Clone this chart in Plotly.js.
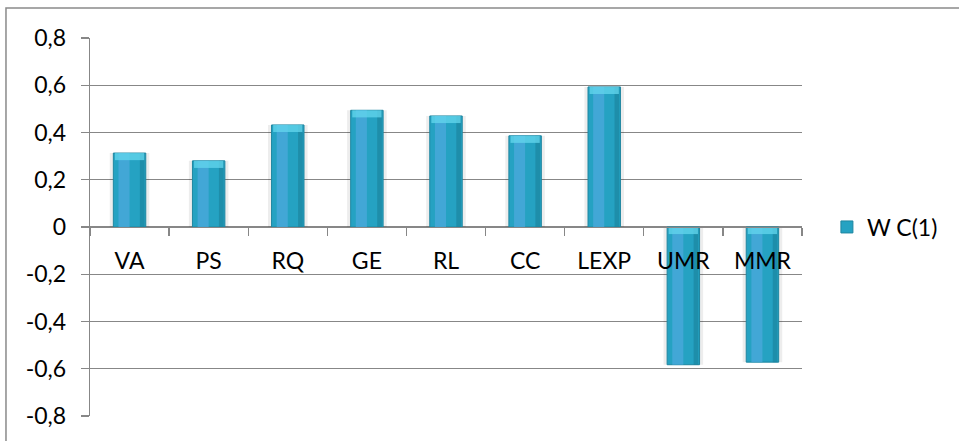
<!DOCTYPE html>
<html>
<head>
<meta charset="utf-8">
<script src="https://cdn.plot.ly/plotly-3.0.1.min.js"></script>
<style>html,body{margin:0;padding:0;background:#fff;}#chart{width:959px;height:441px;}</style>
</head>
<body>
<div id="chart"></div>
<script>
const categories = ["VA", "PS", "RQ", "GE", "RL", "CC", "LEXP", "UMR", "MMR"];
const values = [0.313, 0.28, 0.432, 0.494, 0.47, 0.386, 0.593, -0.583, -0.572];
const seriesName = "W C(1)";
const yTickVals = [-0.8, -0.6, -0.4, -0.2, 0, 0.2, 0.4, 0.6, 0.8];
const yTickText = ["-0,8", "-0,6", "-0,4", "-0,2", "0", "0,2", "0,4", "0,6", "0,8"];

const capH = 0.03;
const capY = values.map(v => v >= 0 ? capH : -capH);
const capBase = values.map(v => v >= 0 ? v - capH : 0);

const FONT = 'Lato, Calibri, sans-serif';
const FS = 23;

const traces = [
  { type: 'bar', x: categories, y: values, width: 0.5, showlegend: false, hoverinfo: 'skip',
    marker: { color: 'rgba(0,0,0,0.07)', line: { width: 0 } } },
  { type: 'bar', x: categories, y: values, name: seriesName, width: 0.41,
    marker: { color: '#25a2c2', line: { color: '#1f86a0', width: 1 } } },
  { type: 'bar', x: categories, y: values, width: 0.14, offset: -0.14, showlegend: false, hoverinfo: 'skip',
    marker: { color: 'rgba(78,170,222,0.7)', line: { width: 0 } } },
  { type: 'bar', x: categories, y: values, width: 0.06, offset: 0.13, showlegend: false, hoverinfo: 'skip',
    marker: { color: 'rgba(26,125,152,0.55)', line: { width: 0 } } },
  { type: 'bar', x: categories, y: capY, base: capBase, width: 0.37, showlegend: false, hoverinfo: 'skip',
    marker: { color: 'rgba(100,215,238,0.75)', line: { width: 0 } } }
];

const layout = {
  width: 959, height: 441,
  margin: { l: 90, r: 157, t: 38, b: 25 },
  paper_bgcolor: '#fff', plot_bgcolor: '#fff',
  barmode: 'overlay',
  font: { family: FONT, size: FS, color: '#000' },
  xaxis: {
    type: 'category', anchor: 'free', position: 0.5,
    showline: true, linecolor: '#878787', linewidth: 1.3,
    ticks: 'outside', tickson: 'boundaries', ticklen: 8, tickcolor: '#878787', tickwidth: 1.3,
    ticklabelstandoff: 13,
    showgrid: false, zeroline: false,
    tickfont: { family: FONT, size: FS, color: '#000' }
  },
  yaxis: {
    range: [-0.8, 0.8], tickvals: yTickVals, ticktext: yTickText,
    showline: true, linecolor: '#878787', linewidth: 1.3,
    ticks: 'outside', ticklen: 8, tickcolor: '#878787', tickwidth: 1.3,
    ticklabelstandoff: 10,
    showgrid: true, gridcolor: '#878787', gridwidth: 1.3,
    zeroline: false,
    tickfont: { family: FONT, size: FS, color: '#000' }
  },
  legend: {
    x: 1.035, xanchor: 'left', y: 0.5, yanchor: 'middle',
    font: { family: FONT, size: FS, color: '#000' },
    bgcolor: 'rgba(0,0,0,0)'
  },
  shapes: [
    { type: 'rect', xref: 'paper', yref: 'paper', x0: -0.118, x1: 1.3, y0: -0.2, y1: 1.0794,
      line: { color: '#8a8a8a', width: 1.5 }, fillcolor: 'rgba(0,0,0,0)', layer: 'below' }
  ],
  showlegend: true
};

Plotly.newPlot('chart', traces, layout, { staticPlot: true, displayModeBar: false });
</script>
</body>
</html>
